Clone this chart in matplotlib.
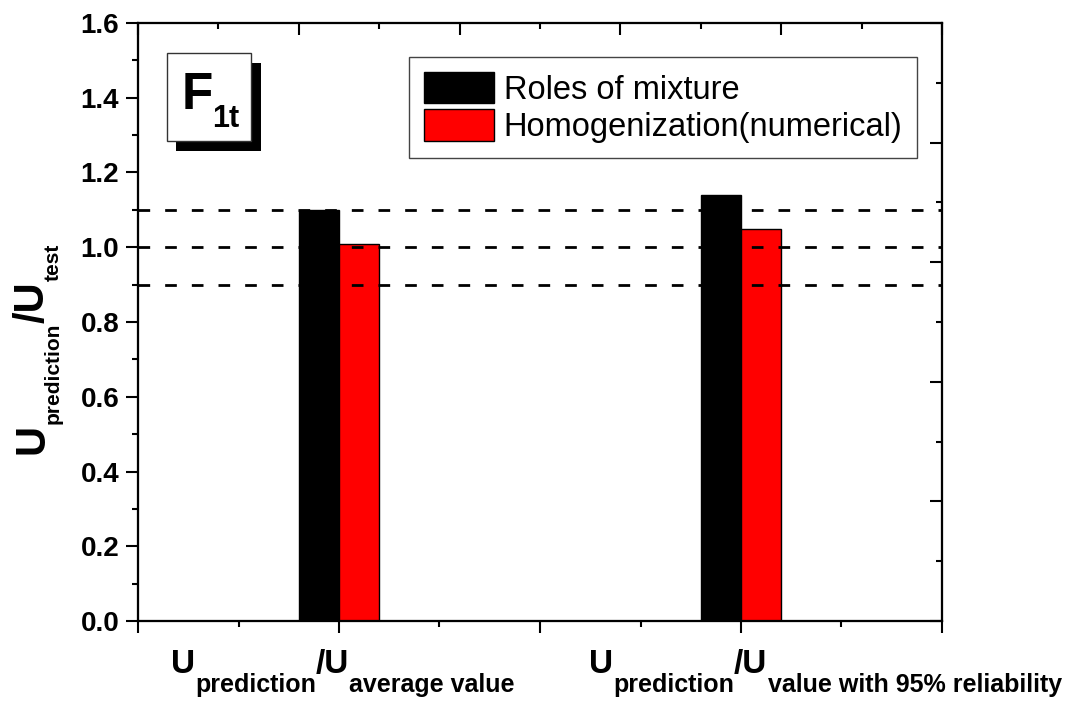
import matplotlib
matplotlib.use('Agg')
import matplotlib.pyplot as plt
from matplotlib.patches import Rectangle
from matplotlib.transforms import IdentityTransform
from matplotlib.ticker import MultipleLocator, FormatStrFormatter

# data
series_names = ['Roles of mixture', 'Homogenization(numerical)']
group_subs = ['average value', 'value with 95% reliability']
group_pos = [1, 3]
mixture = [1.10, 1.14]
homogenization = [1.01, 1.05]
ref_levels = [0.9, 1.0, 1.1]

plt.rcParams['font.family'] = ['Liberation Sans', 'DejaVu Sans']
plt.rcParams['font.weight'] = 'bold'
regular = ['Liberation Sans', 'DejaVu Sans']

W, H = 1065, 702
fig = plt.figure(figsize=(W / 100, H / 100), dpi=100)
ax = fig.add_axes([138 / W, 81 / H, 804 / W, 598 / H])

bw = 0.2
ax.bar([p - bw / 2 for p in group_pos], mixture, width=bw, color='black',
       edgecolor='black', lw=1, label=series_names[0], zorder=2)
ax.bar([p + bw / 2 for p in group_pos], homogenization, width=bw, color='red',
       edgecolor='black', lw=1, label=series_names[1], zorder=2)
for lvl in ref_levels:
    ax.axhline(lvl, color='black', lw=2, ls=(0, (4.2, 5.4)), zorder=3)

ax.set_xlim(0, 4)
ax.set_ylim(0, 1.6)
ax.xaxis.set_major_locator(MultipleLocator(1))
ax.xaxis.set_minor_locator(MultipleLocator(0.5))
ax.yaxis.set_major_locator(MultipleLocator(0.2))
ax.yaxis.set_minor_locator(MultipleLocator(0.1))
ax.yaxis.set_major_formatter(FormatStrFormatter('%.1f'))
ax.tick_params(which='both', direction='out', width=1.5, top=False, right=False)
ax.tick_params(which='major', length=8.5)
ax.tick_params(which='minor', length=4)
ax.tick_params(axis='x', which='both', labelbottom=False)
ax.tick_params(axis='y', labelsize=20, pad=5)

# top and right frames carry their own inward ticks
axt = ax.twiny()
axt.set_xlim(0, 5)
axt.xaxis.set_major_locator(MultipleLocator(1))
axt.xaxis.set_minor_locator(MultipleLocator(0.5))
axt.tick_params(axis='x', which='both', direction='in', width=1.5, top=True,
                bottom=False, labeltop=False, labelbottom=False)
axt.tick_params(axis='x', which='major', length=8.5)
axt.tick_params(axis='x', which='minor', length=4)

axr = ax.twinx()
axr.set_ylim(0, 5)
axr.yaxis.set_major_locator(MultipleLocator(1))
axr.yaxis.set_minor_locator(MultipleLocator(0.5))
axr.tick_params(axis='y', which='both', direction='in', width=1.5, right=True,
                left=False, labelright=False, labelleft=False)
axr.tick_params(axis='y', which='major', length=8.5)
axr.tick_params(axis='y', which='minor', length=4)

for a in (ax, axt, axr):
    for s in a.spines.values():
        s.set_linewidth(1.5)

leg = ax.legend(loc='upper left', bbox_to_anchor=(0.337, 0.943), borderaxespad=0,
                prop={'size': 23.5, 'weight': 'normal'}, handlelength=2.15,
                handleheight=1.1, handletextpad=0.3, labelspacing=0.12,
                borderpad=0.45, fancybox=False, framealpha=1, edgecolor='#444444')
leg.get_frame().set_linewidth(1)

# F_1t tag with drop shadow
ax.add_patch(Rectangle((0.047, 0.786), 0.106, 0.147, transform=ax.transAxes,
                       fc='black', ec='none', zorder=5))
ax.add_patch(Rectangle((0.036, 0.803), 0.1045, 0.147, transform=ax.transAxes,
                       fc='white', ec='#333333', lw=1, zorder=6))
ax.text(0.0547, 0.856, 'F', transform=ax.transAxes, fontsize=37, va='baseline', zorder=7)
ax.text(0.092, 0.826, '1t', transform=ax.transAxes, fontsize=22, va='baseline', zorder=7)

renderer = fig.canvas.get_renderer()


def rich_label(cx, cy, parts, vertical=False):
    # parts: (text, size, drop in pixels) laid out one after another, centred on cx/cy
    made = []
    total = 0
    for s, size, drop in parts:
        t = fig.text(0, 0, s, fontsize=size, family=regular, weight='bold', ha='left',
                     va='baseline', rotation=90 if vertical else 0,
                     rotation_mode='anchor', transform=IdentityTransform())
        bb = t.get_window_extent(renderer)
        made.append((t, total, drop))
        total += bb.height if vertical else bb.width
    for t, off, drop in made:
        if vertical:
            t.set_position((cx + drop, cy - total / 2 + off))
        else:
            t.set_position((cx - total / 2 + off, cy - drop))


label_x = [ax.transData.transform((1.02, 0))[0], ax.transData.transform((3.42, 0))[0]]
for cx, sub in zip(label_x, group_subs):
    rich_label(cx, H - 673, [('U', 24, 0), ('prediction', 18, 19),
                             ('/U', 24, 0), (sub, 18, 19)])

rich_label(44, H - 349, [('U', 30, 0), ('prediction', 15, 15),
                         ('/U', 30, 0), ('test', 15, 15)], vertical=True)

fig.savefig('out.png', dpi=100)
